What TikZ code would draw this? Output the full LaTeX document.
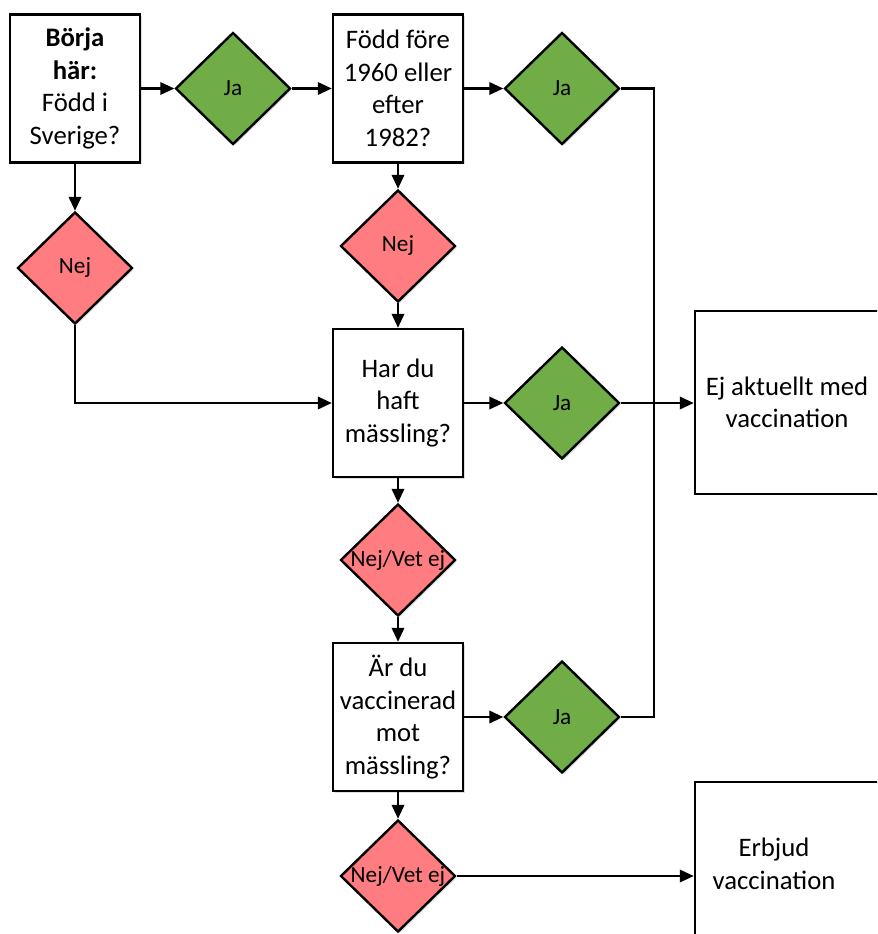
\documentclass[tikz,border=0pt]{standalone}
\usepackage{fontspec}
\setmainfont{Carlito}
\usetikzlibrary{arrows.meta,shapes.geometric,shadows,calc}
\definecolor{jagreen}{HTML}{70AD47}
\definecolor{nejred}{HTML}{FF7C80}

\begin{document}
\begin{tikzpicture}[x=0.025cm, y=-0.025cm]
		\tikzstyle{every node}=[font=\fontsize{19}{23.2}\selectfont]
		\tikzstyle{box}=[draw, line width=1.7pt, fill=white, align=center, minimum width=3.25cm, minimum height=3.7cm, inner sep=2pt, drop shadow={shadow xshift=1.2pt, shadow yshift=-1.2pt, opacity=0.25}]
		\tikzstyle{result}=[draw, line width=1.7pt, fill=white, align=center, minimum width=4.6cm, minimum height=4.575cm]
		\tikzstyle{choice}=[diamond, draw, line width=1.7pt, minimum width=2.875cm, minimum height=2.8cm, inner sep=0pt, font=\fontsize{16.5}{20}\selectfont, drop shadow={shadow xshift=1.2pt, shadow yshift=-1.2pt, opacity=0.25}]
		\tikzstyle{yes}=[choice, fill=jagreen]
		\tikzstyle{no}=[choice, fill=nejred]
		\tikzstyle{arr}=[line width=1.7pt, -{Triangle[length=0.35cm, width=0.31cm]}]
		\tikzstyle{line}=[line width=1.7pt]
		\clip (0,0) rectangle (877,934);
		% first row
		\node [box] (born) at (75,88.5) {\textbf{Börja}\\\textbf{här:}\\Född i\\Sverige?};
		\node [yes] (ja1) at (233,88.5) {Ja};
		\node [box] (year) at (398,88.5) {Född före\\1960 eller\\efter\\1982?};
		\node [yes] (ja2) at (562,88.5) {Ja};
		\coordinate (rail) at (654,88.5);
		% no branches
		\node [no] (nej1) at (75,268) {Nej};
		\node [no] (nej2) at (398,246) {Nej};
		% measles question
		\node [box] (measles) at (398,403) {Har du\\haft\\mässling?};
		\node [yes] (ja3) at (562,403) {Ja};
		\node [result] (noneed) at (787,402.5) {Ej aktuellt med\\vaccination};
		\node [no] (unsure1) at (398,560) {\makebox[0pt]{Nej/Vet ej}};
		% vaccination question
		\node [box] (vacc) at (398,717) {Är du\\vaccinerad\\mot\\mässling?};
		\node [yes] (ja4) at (562,717) {Ja};
		\node [no] (unsure2) at (398,876) {\makebox[0pt]{Nej/Vet ej}};
		\node [result] (offer) at (787,873.5) {};
		\node [align=center] (offertext) at (774,864) {Erbjud\\vaccination};
		% connectors
		\draw [arr] (born.east) -- (ja1.west);
		\draw [arr] (ja1.east) -- (year.west);
		\draw [arr] (year.east) -- (ja2.west);
		\draw [line] (ja2.east) -| (rail |- ja4.east) -- (ja4.east);
		\draw [arr] (born.south) -- (nej1.north);
		\draw [arr] (nej1.south) |- (measles.west);
		\draw [arr] (year.south) -- (nej2.north);
		\draw [arr] (nej2.south) -- (measles.north);
		\draw [arr] (measles.east) -- (ja3.west);
		\draw [arr] (ja3.east) -- (ja3.east -| noneed.west);
		\draw [arr] (measles.south) -- (unsure1.north);
		\draw [arr] (unsure1.south) -- (vacc.north);
		\draw [arr] (vacc.east) -- (ja4.west);
		\draw [arr] (vacc.south) -- (unsure2.north);
		\draw [arr] (unsure2.east) -- (unsure2.east -| offer.west);
		\end{tikzpicture}
\end{document}
